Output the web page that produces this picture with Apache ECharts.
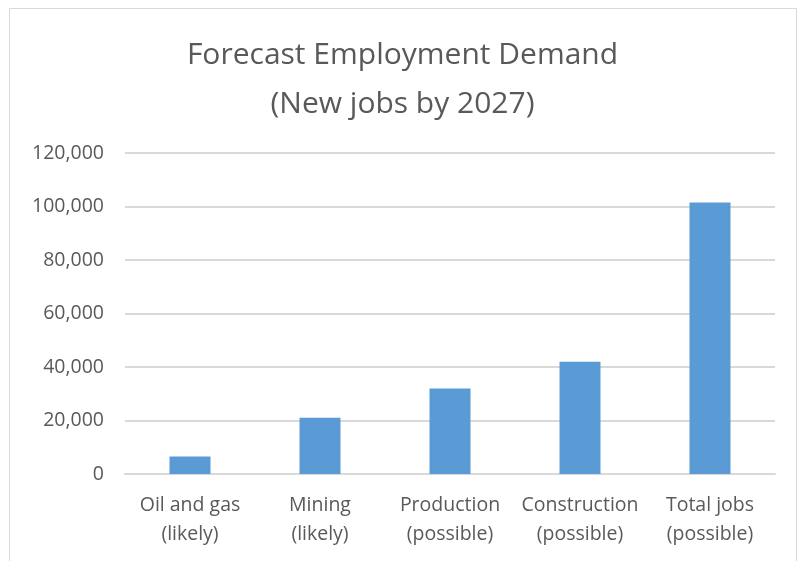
<!DOCTYPE html>
<html>
<head>
<meta charset="utf-8">
<script src="https://cdn.jsdelivr.net/npm/echarts@6/dist/echarts.min.js"></script>
<style>
  html, body { margin: 0; padding: 0; background: #fff; }
  #chart { width: 805px; height: 561px; }
</style>
</head>
<body>
<div id="chart"></div>
<script>
// Forecast new jobs by sector, to 2027
const categories = [
  'Oil and gas\n(likely)',
  'Mining\n(likely)',
  'Production\n(possible)',
  'Construction\n(possible)',
  'Total jobs\n(possible)'
];
const newJobs = [6500, 21000, 32000, 42000, 101500];
const yTicks = { min: 0, max: 120000, interval: 20000 };

const textColor = '#595959';
const font = 'Open Sans';

const chart = echarts.init(document.getElementById('chart'), null, { renderer: 'canvas' });
chart.setOption({
  backgroundColor: '#ffffff',
  animation: false,
  graphic: [{
    type: 'rect',
    shape: { x: 9.5, y: 8.5, width: 787, height: 570 },
    style: { fill: 'none', stroke: '#d9d9d9', lineWidth: 1 },
    silent: true
  }],
  title: {
    text: 'Forecast Employment Demand\n(New jobs by 2027)',
    left: 'center',
    top: 26,
    textStyle: {
      fontFamily: font,
      fontSize: 30,
      fontWeight: 'normal',
      color: textColor,
      lineHeight: 49
    }
  },
  grid: { left: 125, right: 30, top: 153, bottom: 87, containLabel: false },
  xAxis: {
    type: 'category',
    data: categories,
    axisLine: { show: true, lineStyle: { color: '#d9d9d9', width: 2 } },
    axisTick: { show: false },
    axisLabel: {
      interval: 0,
      margin: 17,
      fontFamily: font,
      fontSize: 19.5,
      color: textColor,
      lineHeight: 29
    }
  },
  yAxis: {
    type: 'value',
    min: yTicks.min,
    max: yTicks.max,
    interval: yTicks.interval,
    axisLine: { show: false },
    axisTick: { show: false },
    splitLine: { lineStyle: { color: '#d9d9d9', width: 2 } },
    axisLabel: {
      margin: 21,
      fontFamily: font,
      fontSize: 19.5,
      color: textColor,
      formatter: v => v.toLocaleString('en-US')
    }
  },
  series: [{
    type: 'bar',
    data: newJobs,
    barWidth: 41,
    itemStyle: { color: '#5b9bd5' }
  }]
});
</script>
</body>
</html>
